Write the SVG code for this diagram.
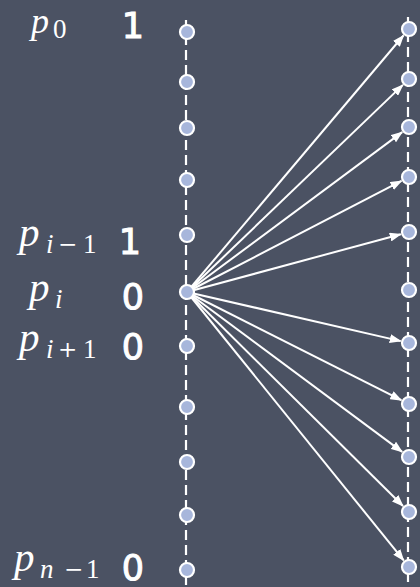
<svg xmlns="http://www.w3.org/2000/svg" width="420" height="587" viewBox="0 0 420 587">
<style>
.p{font-family:"Liberation Serif","DejaVu Serif",serif;font-style:italic;font-size:41px;fill:#fff}
.s{font-size:27px}
.u{font-style:normal}
.o{font-family:"DejaVu Serif",serif;font-style:normal;font-size:23px}
.n{font-family:"DejaVu Sans","Liberation Sans",sans-serif;font-size:35px;fill:#fff;stroke:#fff;stroke-width:1;text-anchor:middle}
.dash{stroke:#fff;stroke-width:2.2;stroke-dasharray:10 5;fill:none}
.dot{fill:#a7b6db;stroke:#fff;stroke-width:2.2}
.arr{stroke:#fff;stroke-width:2;fill:none;marker-end:url(#ah)}
</style>
<defs>
<marker id="ah" viewBox="0 0 12 9" refX="11" refY="4.5" markerWidth="12" markerHeight="9" markerUnits="userSpaceOnUse" orient="auto">
<path d="M0,0 L12,4.5 L0,9 z" fill="#fff"/>
</marker>
</defs>
<rect width="420" height="587" fill="#4b5263"/>
<g id="lines">
<line class="dash" x1="186" y1="20" x2="186" y2="587"/>
<line class="dash" x1="408" y1="17" x2="408" y2="587"/>
</g>
<g id="connectors">
<line class="arr" x1="187" y1="292" x2="403.5" y2="35.5"/>
<line class="arr" x1="187" y1="292" x2="402.9" y2="84.9"/>
<line class="arr" x1="187" y1="292" x2="402.2" y2="132.1"/>
<line class="arr" x1="187" y1="292" x2="401.5" y2="180.9"/>
<line class="arr" x1="187" y1="292" x2="400.8" y2="234.2"/>
<line class="arr" x1="187" y1="292" x2="400.7" y2="341.1"/>
<line class="arr" x1="187" y1="292" x2="401.4" y2="400.2"/>
<line class="arr" x1="187" y1="292" x2="402.2" y2="451.9"/>
<line class="arr" x1="187" y1="292" x2="403.0" y2="506.0"/>
<line class="arr" x1="187" y1="292" x2="403.7" y2="560.4"/>
</g>
<g id="left-dots">
<circle class="dot" cx="187" cy="32" r="7"/>
<circle class="dot" cx="187" cy="82" r="7"/>
<circle class="dot" cx="187" cy="128" r="7"/>
<circle class="dot" cx="187" cy="180" r="7"/>
<circle class="dot" cx="187" cy="235" r="7"/>
<circle class="dot" cx="187" cy="292" r="7"/>
<circle class="dot" cx="187" cy="346" r="7"/>
<circle class="dot" cx="187" cy="407" r="7"/>
<circle class="dot" cx="187" cy="462" r="7"/>
<circle class="dot" cx="187" cy="515" r="7"/>
<circle class="dot" cx="187" cy="570" r="7"/>
</g>
<g id="right-dots">
<circle class="dot" cx="409" cy="29" r="7"/>
<circle class="dot" cx="409" cy="79" r="7"/>
<circle class="dot" cx="409" cy="127" r="7"/>
<circle class="dot" cx="409" cy="177" r="7"/>
<circle class="dot" cx="409" cy="232" r="7"/>
<circle class="dot" cx="409" cy="290" r="7"/>
<circle class="dot" cx="409" cy="343" r="7"/>
<circle class="dot" cx="409" cy="404" r="7"/>
<circle class="dot" cx="409" cy="457" r="7"/>
<circle class="dot" cx="409" cy="512" r="7"/>
<circle class="dot" cx="409" cy="567" r="7"/>
</g>
<g id="label-p0">
<text class="p" x="31" y="33" style="font-size:36px">p<tspan class="s u" x="53" y="38">0</tspan></text>
<text class="n" x="133" y="38">1</text>
</g>
<g id="label-pi-1">
<text class="p" x="19" y="246">p<tspan class="s" x="46" y="253">i</tspan><tspan class="o" x="58" y="252">−</tspan><tspan class="s u" x="83" y="253">1</tspan></text>
<text class="n" x="130" y="254">1</text>
</g>
<g id="label-pi">
<text class="p" x="29" y="301">p<tspan class="s" x="55" y="308">i</tspan></text>
<text class="n" x="133" y="309">0</text>
</g>
<g id="label-pi+1">
<text class="p" x="19" y="351">p<tspan class="s" x="46" y="358">i</tspan><tspan class="o" x="58" y="357">+</tspan><tspan class="s u" x="83" y="358">1</tspan></text>
<text class="n" x="133" y="359">0</text>
</g>
<g id="label-pn-1">
<text class="p" x="14" y="571">p<tspan class="s" x="40" y="578">n</tspan><tspan class="o" x="64" y="577">−</tspan><tspan class="s u" x="86" y="578">1</tspan></text>
<text class="n" x="133" y="580">0</text>
</g>
</svg>
